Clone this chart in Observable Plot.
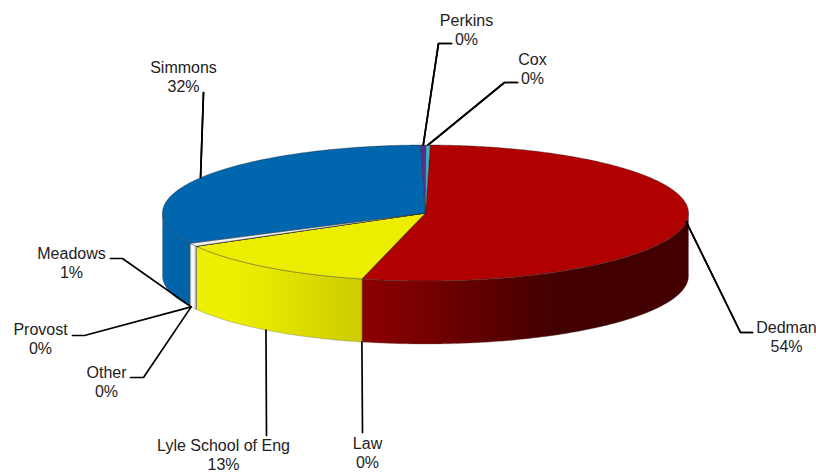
<!DOCTYPE html>
<html><head><meta charset="utf-8">
<script src="https://cdn.jsdelivr.net/npm/d3@7"></script>
<script src="https://cdn.jsdelivr.net/npm/@observablehq/plot@0.6"></script>
<style>html,body{margin:0;padding:0;background:#fff}svg{display:block}</style>
</head><body><div id="chart"></div>
<script>
// Data, clockwise from the first slice
const schools = ["Dedman","Law","Lyle School of Eng","Other","Provost","Meadows","Simmons","Perkins","Cox"];
const shares  = [53.6,0.02,12.95,0.02,0.02,0.75,32.06,0.33,0.25];
const colors  = ["#b00000","#1f4e9a","#eded00","#6a9a3a","#8a5a2a","#f2f2f2","#0066ae","#5a2d8c","#35b9cc"];

// Pie geometry
const W = 816, H = 473;
const cx = 425, cy = 212.5, rx = 263, ry = 68, depth = 63, startDeg = 1;

// Label placement: text centre, elbow end at the text, elbow corner toward the slice
const textX  = [786,367,223,106,40,71,183,466,532];
const textY  = [327,443,445,372,329,253,67,20,59];
const elbowA = [[752,332],null,null,[130,377],[72,335],[110,258],null,[451,43],[517,82]];
const elbowB = [[740,332],[362,432],[266,435],[143,377],[84,335],[122,258],[203,92],[438,43],[504,82]];
const anchorDeg = [null,null,null,243,243,243,null,null,null];

const sideStops = [
  [[0,"#8e0000"],[0.6,"#420000"],[1,"#420000"]],
  [[0,"#8e0000"],[1,"#8e0000"]],
  [[0,"#eeee00"],[0.25,"#eeee00"],[1,"#cccc00"]],
  [[0,"#999999"],[1,"#999999"]],
  [[0,"#999999"],[1,"#999999"]],
  [[0,"#e4e4e4"],[0.5,"#ffffff"],[1,"#c8c8c8"]],
  [[0,"#0066ae"],[1,"#0060a4"]],
  [[0,"#5a2d8c"],[1,"#5a2d8c"]],
  [[0,"#35b9cc"],[1,"#35b9cc"]]
];

const rad = d => d * Math.PI / 180;
const px = a => cx + rx * Math.sin(rad(a));
const py = a => cy - ry * Math.cos(rad(a));
const total = d3.sum(shares);
let acc = startDeg;
const slices = schools.map((name,i) => {
  const a0 = acc; acc += shares[i] / total * 360;
  return {name, i, a0, a1: acc, mid: (a0 + acc) / 2};
});
const arcPts = (a0,a1) => { const n = Math.max(2, Math.ceil((a1 - a0) * 1.5)); return d3.range(n + 1).map(k => a0 + (a1 - a0) * k / n); };

const tops = [], walls = [], leaders = [], labels = [];
slices.forEach(s => {
  tops.push({k:s.i, x:cx, y:cy});
  for (const a of arcPts(s.a0,s.a1)) tops.push({k:s.i, x:px(a), y:py(a)});
  tops.push({k:s.i, x:cx, y:cy});
  const lo = Math.max(s.a0,90), hi = Math.min(s.a1,270);
  if (hi > lo) {
    const pts = arcPts(lo,hi);
    for (const a of pts) walls.push({k:s.i, x:px(a), y:py(a)});
    for (const a of pts.slice().reverse()) walls.push({k:s.i, x:px(a), y:py(a) + depth});
    walls.push({k:s.i, x:px(lo), y:py(lo)});
  }
  const at = anchorDeg[s.i] ?? s.mid;
  const onWall = s.mid > 180 && s.mid < 270;
  leaders.push({k:s.i, x:px(at), y:py(at) + (onWall ? depth : 0)});
  leaders.push({k:s.i, x:elbowB[s.i][0], y:elbowB[s.i][1]});
  if (elbowA[s.i]) leaders.push({k:s.i, x:elbowA[s.i][0], y:elbowA[s.i][1]});
  labels.push({x:textX[s.i], y:textY[s.i], t:s.name});
  labels.push({x:textX[s.i], y:textY[s.i] + 19, t:Math.round(shares[s.i]) + "%"});
});

const gradients = () => {
  const svgNS = "http://www.w3.org/2000/svg";
  const defs = document.createElementNS(svgNS,"defs");
  sideStops.forEach((stops,i) => {
    const g = document.createElementNS(svgNS,"linearGradient");
    g.setAttribute("id","side"+i);
    for (const [o,c] of stops) {
      const st = document.createElementNS(svgNS,"stop");
      st.setAttribute("offset",o); st.setAttribute("stop-color",c); g.appendChild(st);
    }
    defs.appendChild(g);
  });
  return defs;
};

const chart = Plot.plot({
  width: W, height: H, margin: 0,
  x: {domain:[0,W], range:[0,W], axis:null},
  y: {domain:[0,H], range:[0,H], axis:null},
  style: {background:"#fff", fontFamily:"'Liberation Sans',Arial,sans-serif"},
  marks: [
    gradients,
    Plot.line(walls, {x:"x", y:"y", z:"k", curve:"linear", fill:d => "url(#side"+d.k+")", stroke:"#666", strokeOpacity:0.5, strokeWidth:0.7}),
    Plot.line(leaders, {x:"x", y:"y", z:"k", curve:"linear", stroke:"#000", strokeWidth:1.7}),
    Plot.line(tops, {x:"x", y:"y", z:"k", curve:"linear", fill:d => colors[d.k], stroke:"#222", strokeOpacity:0.55, strokeWidth:0.7}),
    Plot.line(leaders.filter(d => [0,6,7,8].includes(d.k)), {x:"x", y:"y", z:"k", curve:"linear", stroke:"#000", strokeWidth:1.7}),
    Plot.text(labels, {x:"x", y:"y", text:"t", fontSize:16, fill:"#222", textAnchor:"middle"})
  ]
});
document.getElementById("chart").appendChild(chart);
</script></body></html>
